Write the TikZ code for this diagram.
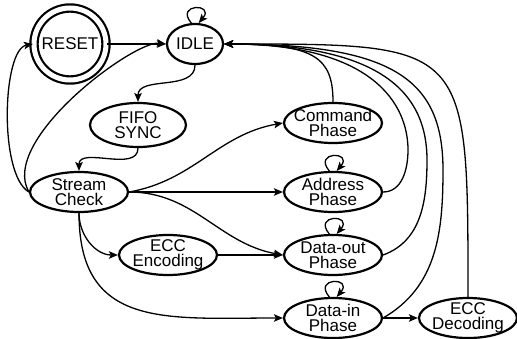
\documentclass[tikz,border=0pt]{standalone}
\usepackage{fontspec}
\setmainfont{Liberation Sans}
\usetikzlibrary{arrows.meta}
\usetikzlibrary{shapes.geometric}

\begin{document}
\begin{tikzpicture}[x = 1pt, y = 1pt,
  state/.style = {ellipse, draw, line width=2.2pt, minimum width=98pt, minimum height=40pt,
    inner xsep=-6pt, inner ysep=-2pt, align=center, font=\fontsize{17}{15}\selectfont},
  trans/.style = {-{Stealth[length=9pt, width=7.5pt, inset=2pt]}, line width=1.3pt},
  selfloop/.style = {trans, out=130, in=50, distance=26pt}]

  \useasboundingbox (0,0) rectangle (517,338);

  % draw states
  \node[circle, draw, double, line width=2.2pt, double distance=5pt, minimum size=72pt,
    inner sep=0pt, font=\fontsize{17}{15}\selectfont] (reset) at (70,294) {RESET};
  \node[state, minimum width=56pt] (idle) at (195,294) {IDLE};
  \node[state, minimum width=96pt, minimum height=44pt] (fifo) at (138,213) {FIFO\\SYNC};
  \node[state] (check) at (79,146) {Stream\\Check};
  \node[state] (enc) at (168,83) {ECC\\Encoding};
  \node[state] (cmd) at (333,215) {Command\\Phase};
  \node[state] (addr) at (333,146) {Address\\Phase};
  \node[state] (dout) at (333,83) {Data-out\\Phase};
  \node[state] (din) at (333,20) {Data-in\\Phase};
  \node[state] (dec) at (468,20) {ECC\\Decoding};

  % bends of the return paths
  \coordinate (addrup) at (408,188);
  \coordinate (doutup) at (427,178);
  \coordinate (dinup) at (443,168);

  % forward transitions
  \draw[trans] (reset.east) -- (idle.west);
  \draw[trans] (idle.south) to[out=-90, in=90] (fifo.north);
  \draw[trans] (fifo.south) to[out=-90, in=90] (check.north);
  \draw[trans] (check.west) to[out=150, in=190, out distance=35pt, in distance=31pt] (reset.west);
  \draw[trans] (check.west) to[out=120, in=173, out distance=60pt, in distance=32pt] (idle.west);
  \draw[trans] (check.east) to[out=10, in=190] (cmd.west);
  \draw[trans] (check.east) -- (addr.west);
  \draw[trans] (check.east) to[out=0, in=170] (dout.west);
  \draw[trans] (check.south) to[out=-90, in=180] (enc.west);
  \draw[trans] (check.south) to[out=-90, in=180, looseness=1.3] (din.west);
  \draw[trans] (enc.east) -- (dout.west);
  \draw[trans] (din.east) -- (dec.west);

  % back to IDLE
  \draw[trans] (cmd.north) to[out=90, in=0, out distance=45pt, in distance=90pt] (idle.east);
  \draw[trans] (addr.east) to[out=0, in=-90] (addrup)
    to[out=90, in=0, out distance=45pt, in distance=150pt] (idle.east);
  \draw[trans] (dout.east) to[out=20, in=-90] (doutup)
    to[out=90, in=0, out distance=65pt, in distance=160pt] (idle.east);
  \draw[trans] (din.east) to[out=30, in=-90] (dinup)
    to[out=90, in=0, out distance=90pt, in distance=170pt] (idle.east);
  \draw[trans] (dec.north) to[out=90, in=0, out distance=254pt, in distance=245pt] (idle.east);

  % self loops
  \draw[selfloop] (idle.100) to (idle.80);
  \draw[selfloop] (addr.100) to (addr.80);
  \draw[selfloop] (dout.100) to (dout.80);
  \draw[selfloop] (din.100) to (din.80);
\end{tikzpicture}
\end{document}
